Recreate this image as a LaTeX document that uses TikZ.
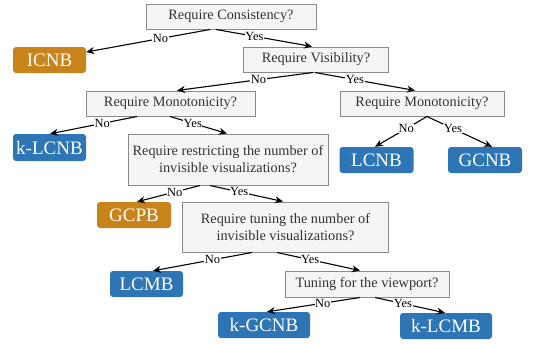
\documentclass[tikz,border=0pt]{standalone}
\usepackage{fontspec}
\setmainfont{Liberation Serif}
\usetikzlibrary{arrows.meta}
\definecolor{qfill}{HTML}{F5F5F5}
\definecolor{qdraw}{HTML}{8A8A8A}
\definecolor{qtext}{HTML}{333333}
\definecolor{ablue}{HTML}{2E75B6}
\definecolor{aorange}{HTML}{C8841A}
\tikzset{
  qbox/.style={draw=qdraw, fill=qfill, line width=1pt, text=qtext, inner sep=0pt, align=center,
    font=\fontsize{14.3}{17}\selectfont},
  abox/.style={rounded corners=3pt, text=white, inner sep=0pt, minimum height=26pt,
    font=\fontsize{19}{22}\selectfont},
  blueans/.style={abox, fill=ablue},
  orangeans/.style={abox, fill=aorange},
  edge/.style={draw=black, line width=1.1pt, -{Stealth[length=8pt,width=7pt]}},
  elab/.style={fill=white, inner sep=0.6pt, text=black, font=\fontsize{12.5}{14}\selectfont, pos=0.4}
}
\begin{document}
\begin{tikzpicture}[x=1pt,y=-1pt]
\useasboundingbox (0,0) rectangle (540,343);
% questions
\node[qbox, minimum width=170pt, minimum height=25pt] (q1) at (231,16.5) {Require Consistency?};
\node[qbox, minimum width=145pt, minimum height=25pt] (q2) at (316,59.5) {Require Visibility?};
\node[qbox, minimum width=169pt, minimum height=25pt] (q3) at (170.5,103.5) {Require Monotonicity?};
\node[qbox, minimum width=164pt, minimum height=25pt] (q4) at (422,103.5) {Require Monotonicity?};
\node[qbox, minimum width=200pt, minimum height=51pt] (q5) at (228,159.5) {Require restricting the number of\\invisible visualizations?};
\node[qbox, minimum width=206pt, minimum height=50pt] (q6) at (285.5,227) {Require tuning the number of\\invisible visualizations?};
\node[qbox, minimum width=164pt, minimum height=26pt] (q7) at (367,284) {Tuning for the viewport?};
% answers
\node[orangeans, minimum width=73pt] (icnb) at (49.5,60) {ICNB};
\node[blueans, minimum width=73pt, minimum height=27pt] (klcnb) at (49.5,147.5) {k-LCNB};
\node[blueans, minimum width=74pt] (lcnb) at (376.5,160) {LCNB};
\node[blueans, minimum width=74pt] (gcnb) at (485,160) {GCNB};
\node[orangeans, minimum width=74pt] (gcpb) at (134,215) {GCPB};
\node[blueans, minimum width=73pt] (lcmb) at (146.5,284) {LCMB};
\node[blueans, minimum width=92pt] (kgcnb) at (264,325) {k-GCNB};
\node[blueans, minimum width=92pt] (klcmb) at (446,326) {k-LCMB};
% edges
\draw[edge] ([xshift=-21pt]q1.south) -- node[elab]{No} ([yshift=8pt]icnb.east);
\draw[edge] ([xshift=-15pt]q1.south) -- node[elab]{Yes} ([xshift=-4pt]q2.north);
\draw[edge] ([xshift=-3pt]q2.south) -- node[elab]{No} ([xshift=6.5pt]q3.north);
\draw[edge] ([xshift=-1pt]q2.south) -- node[elab]{Yes} ([xshift=-7pt]q4.north);
\draw[edge] ([xshift=-33.5pt]q3.south) -- node[elab]{No} ([xshift=0.5pt]klcnb.north);
\draw[edge] ([xshift=-0.5pt]q3.south) -- node[elab]{Yes} ([xshift=-1pt]q5.north);
\draw[edge] ([xshift=5pt]q4.south) -- node[elab]{No} ([xshift=-1.5pt]lcnb.north);
\draw[edge] ([xshift=5pt]q4.south) -- node[elab]{Yes} ([xshift=7pt]gcnb.north);
\draw[edge] ([xshift=-28pt]q5.south) -- node[elab]{No} ([xshift=3pt]gcpb.north);
\draw[edge] ([xshift=-18pt]q5.south) -- node[elab]{Yes} ([xshift=-2.5pt]q6.north);
\draw[edge] ([xshift=-33.5pt]q6.south) -- node[elab]{No} ([xshift=6.5pt]lcmb.north);
\draw[edge] ([xshift=-8.5pt]q6.south) -- node[elab]{Yes} ([xshift=-7pt]q7.north);
\draw[edge] ([xshift=-7pt]q7.south) -- node[elab]{No} ([xshift=3pt]kgcnb.north);
\draw[edge] ([xshift=8pt]q7.south) -- node[elab]{Yes} ([xshift=-1pt]klcmb.north);
\end{tikzpicture}
\end{document}
